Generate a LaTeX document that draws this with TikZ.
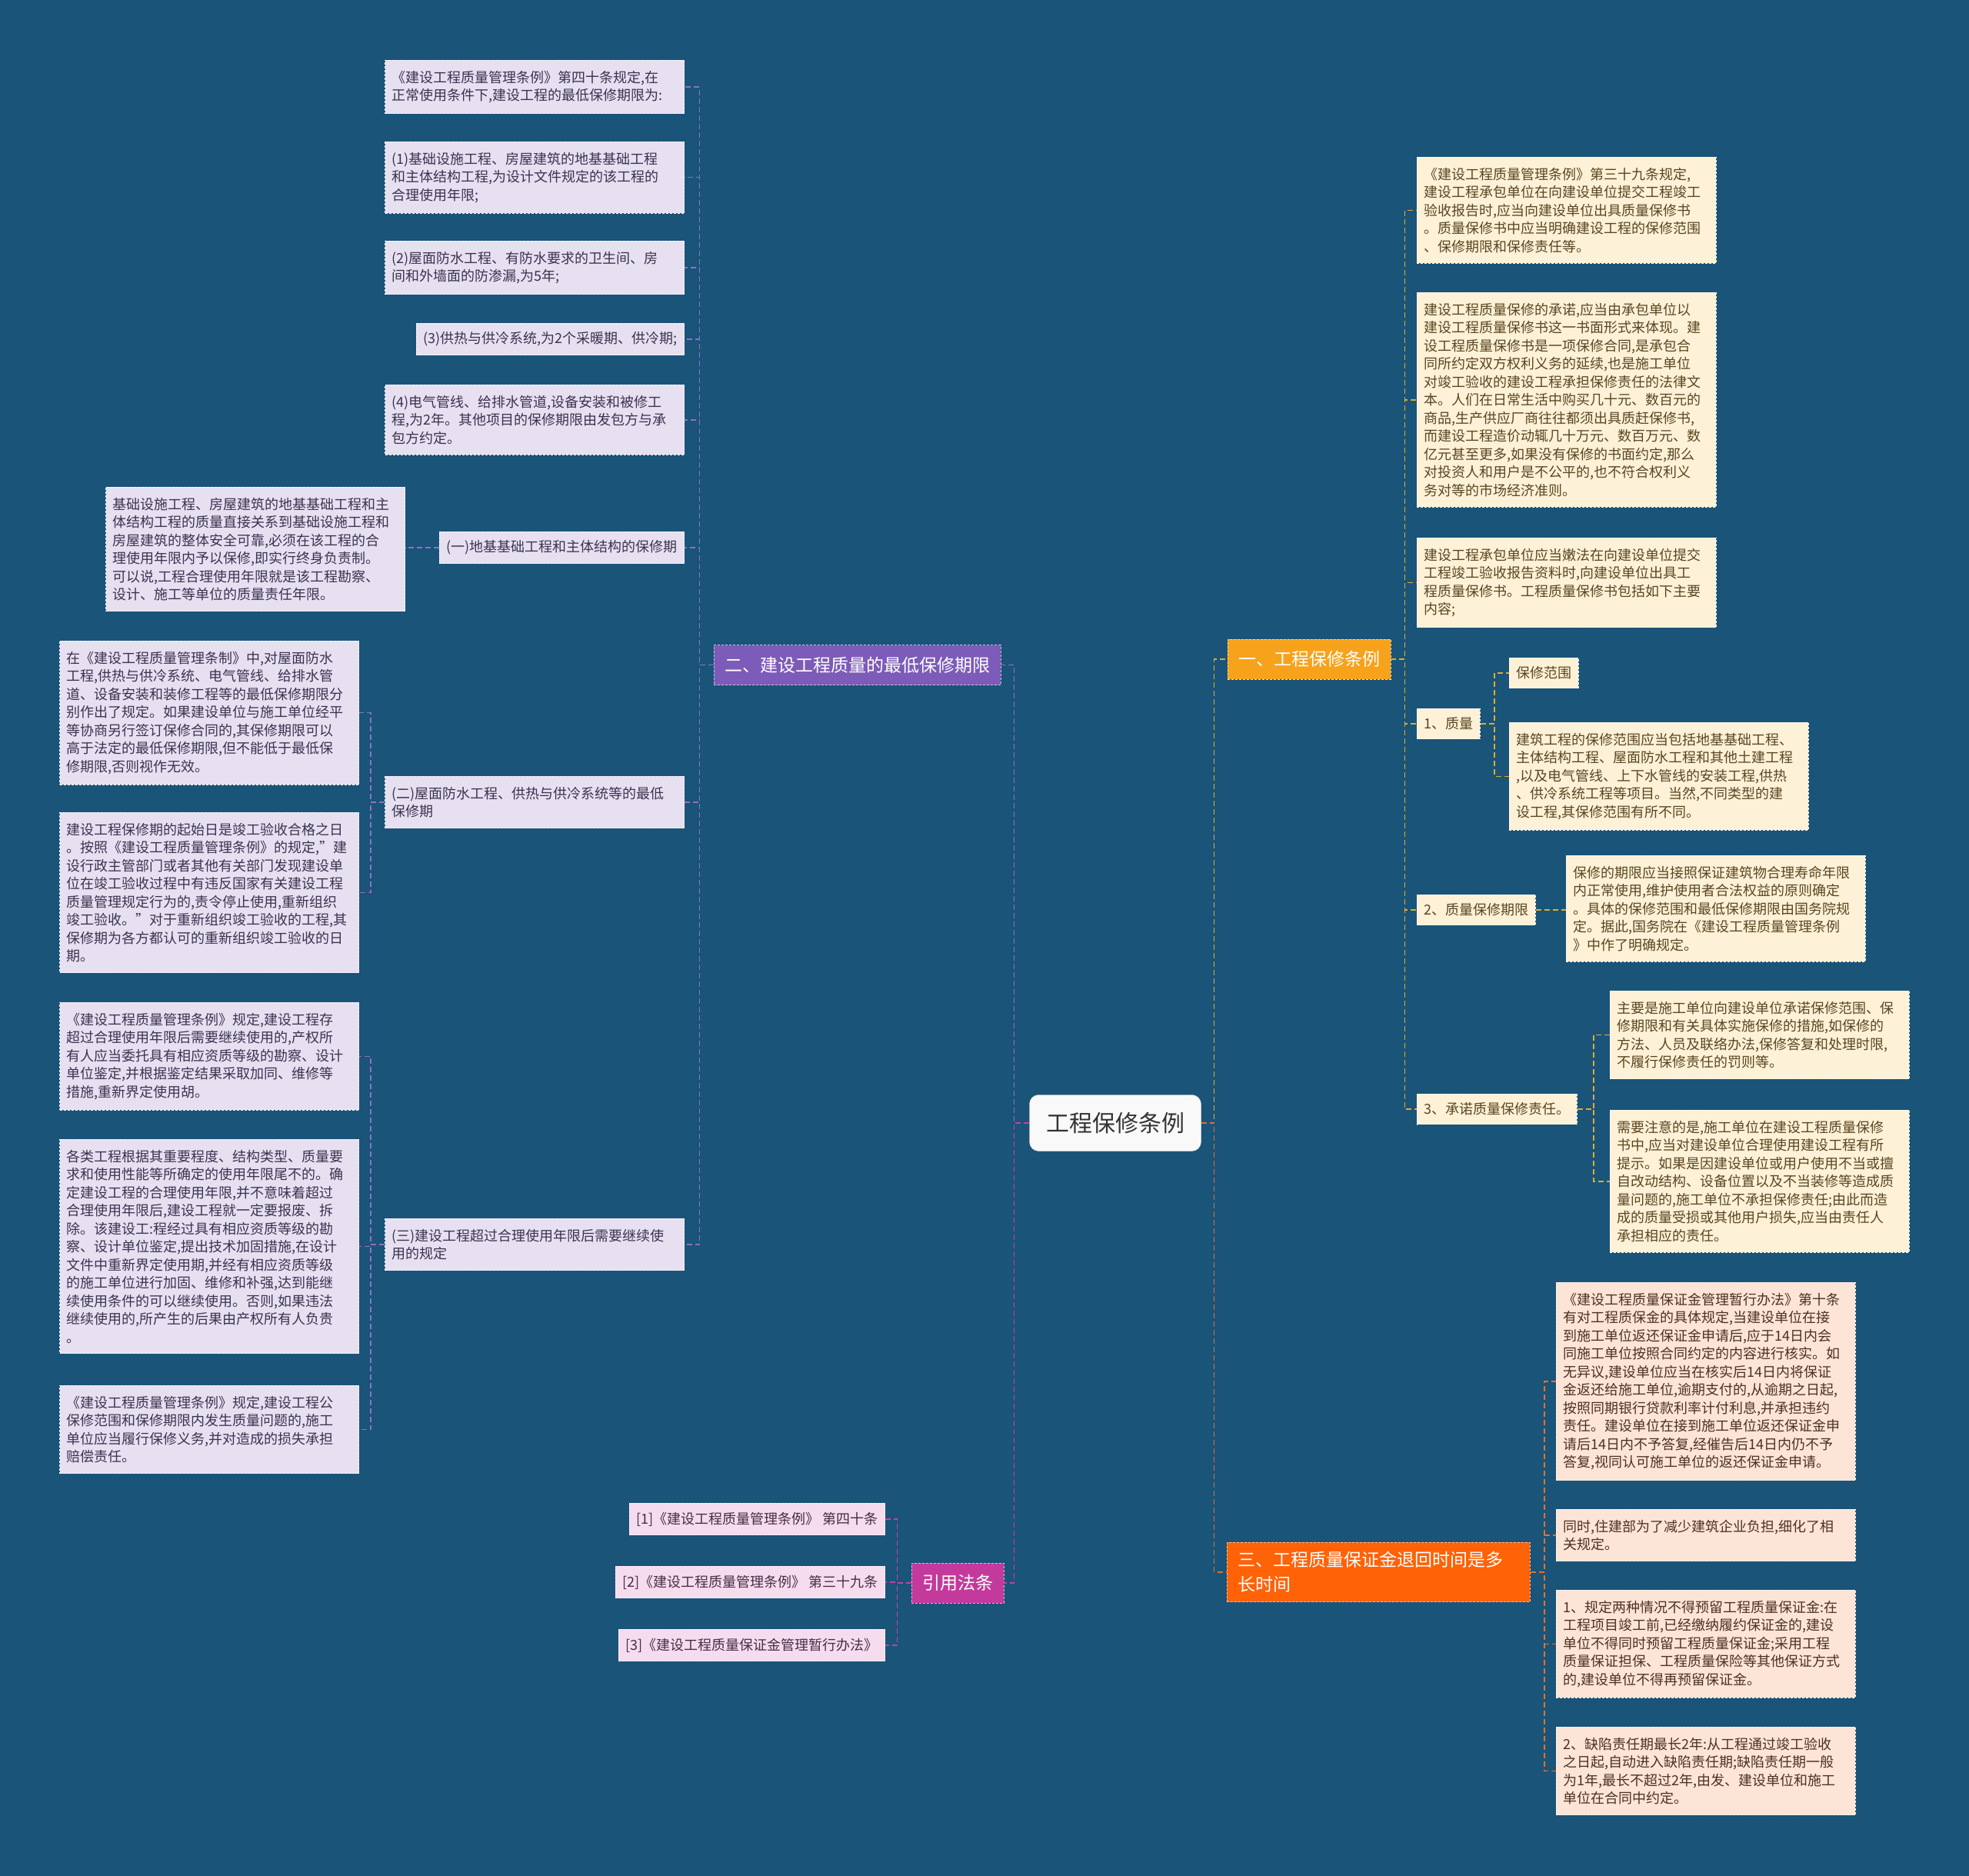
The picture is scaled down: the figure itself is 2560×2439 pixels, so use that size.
\documentclass[tikz,border=0pt]{standalone}
\usepackage{fontspec}
\setmainfont{Noto Sans CJK SC}
\definecolor{bg}{HTML}{1A5478}
\definecolor{pfill}{HTML}{7D5BB8}
\definecolor{pchild}{HTML}{E7E0F1}
\definecolor{ptext}{HTML}{3A3350}
\definecolor{pline}{HTML}{8E70C8}
\definecolor{mfill}{HTML}{C43A9C}
\definecolor{mchild}{HTML}{F6DCEF}
\definecolor{mtext}{HTML}{4A2C45}
\definecolor{mline}{HTML}{C8409E}
\definecolor{yfill}{HTML}{F7A21B}
\definecolor{ychild}{HTML}{FDF1D7}
\definecolor{ytext}{HTML}{5A4520}
\definecolor{yline}{HTML}{E3AA30}
\definecolor{ofill}{HTML}{FF6207}
\definecolor{ochild}{HTML}{FCE4D6}
\definecolor{otext}{HTML}{4D3020}
\definecolor{oline}{HTML}{E2712C}
\tikzset{
  conn/.style={line width=1.5pt, dash pattern=on 7pt off 4pt},
  lnP/.style={conn, draw=pline},
  lnM/.style={conn, draw=mline},
  lnY/.style={conn, draw=yline},
  lnO/.style={conn, draw=oline},
  txt/.style={font=\fontsize{18}{23.5}\selectfont, align=left, inner xsep=9pt, inner ysep=13.5pt,
     dash pattern=on 3pt off 2pt, line width=0.8pt},
  one/.style={font=\fontsize{18}{23.5}\selectfont, inner xsep=9pt, inner ysep=11.5pt,
     dash pattern=on 3pt off 2pt, line width=0.8pt},
  pbox/.style={fill=pchild, draw=white!70!pchild, text=ptext},
  mbox/.style={fill=mchild, draw=white!70!mchild, text=mtext},
  ybox/.style={fill=ychild, draw=white!70!ychild, text=ytext},
  obox/.style={fill=ochild, draw=white!70!ochild, text=otext},
  wide/.style={text width=371pt},
  branch/.style={font=\fontsize{23}{32}\selectfont, text=white, inner xsep=14pt, minimum height=52pt,
     dash pattern=on 3pt off 2pt, line width=0.8pt},
}
\begin{document}
\begin{tikzpicture}[x=1pt,y=-1pt]
\fill[bg] (0,0) rectangle (2560,2439);
\useasboundingbox (0,0) rectangle (2560,2439);

% center
\node[fill=white!95!gray, draw=white!80!gray, rounded corners=12pt, minimum width=223pt, minimum height=73pt,
  font=\fontsize{30}{36}\selectfont, text=black!80] (c) at (1450,1460) {工程保修条例};

% branches
\node[branch, fill=pfill, draw=white!60!pfill] (b2) at (1114.5,864.5) {二、建设工程质量的最低保修期限};
\node[branch, fill=mfill, draw=white!60!mfill] (b4) at (1245,2058) {引用法条};
\node[branch, fill=yfill, draw=white!60!yfill] (b1) at (1702,857) {一、工程保修条例};
\node[branch, fill=ofill, draw=white!60!ofill, anchor=north west, text width=366pt, align=left, inner ysep=12pt] (b3) at (1595,2005) {三、工程质量保证金退回时间是多\\长时间};

% left branch children
\node[txt,pbox,wide,anchor=north east] (p1) at (890,78) {《建设工程质量管理条例》第四十条规定,在\\正常使用条件下,建设工程的最低保修期限为:};
\node[txt,pbox,wide,anchor=north east] (p2) at (890,184) {(1)基础设施工程、房屋建筑的地基基础工程\\和主体结构工程,为设计文件规定的该工程的\\合理使用年限;};
\node[txt,pbox,wide,anchor=north east] (p3) at (890,313) {(2)屋面防水工程、有防水要求的卫生间、房\\间和外墙面的防渗漏,为5年;};
\node[one,pbox,anchor=east] (p4) at (890,441) {(3)供热与供冷系统,为2个采暖期、供冷期;};
\node[txt,pbox,wide,anchor=north east] (p5) at (890,500) {(4)电气管线、给排水管道,设备安装和被修工\\程,为2年。其他项目的保修期限由发包方与承\\包方约定。};
\node[one,pbox,anchor=east] (p6) at (890,712) {(一)地基基础工程和主体结构的保修期};
\node[txt,pbox,wide,anchor=north east] (p6c) at (527,633) {基础设施工程、房屋建筑的地基基础工程和主\\体结构工程的质量直接关系到基础设施工程和\\房屋建筑的整体安全可靠,必须在该工程的合\\理使用年限内予以保修,即实行终身负责制。\\可以说,工程合理使用年限就是该工程勘察、\\设计、施工等单位的质量责任年限。};
\node[txt,pbox,wide,anchor=north east] (p7) at (890,1009) {(二)屋面防水工程、供热与供冷系统等的最低\\保修期};
\node[txt,pbox,wide,anchor=north east] (p7a) at (467,833) {在《建设工程质量管理条制》中,对屋面防水\\工程,供热与供冷系统、电气管线、给排水管\\道、设备安装和装修工程等的最低保修期限分\\别作出了规定。如果建设单位与施工单位经平\\等协商另行签订保修合同的,其保修期限可以\\高于法定的最低保修期限,但不能低于最低保\\修期限,否则视作无效。};
\node[txt,pbox,wide,anchor=north east] (p7b) at (467,1056) {建设工程保修期的起始日是竣工验收合格之日\\。按照《建设工程质量管理条例》的规定,"建\\设行政主管部门或者其他有关部门发现建设单\\位在竣工验收过程中有违反国家有关建设工程\\质量管理规定行为的,责令停止使用,重新组织\\竣工验收。"对于重新组织竣工验收的工程,其\\保修期为各方都认可的重新组织竣工验收的日\\期。};
\node[txt,pbox,wide,anchor=north east] (p8) at (890,1584) {(三)建设工程超过合理使用年限后需要继续使\\用的规定};
\node[txt,pbox,wide,anchor=north east] (p8a) at (467,1303) {《建设工程质量管理条例》规定,建设工程存\\超过合理使用年限后需要继续使用的,产权所\\有人应当委托具有相应资质等级的勘察、设计\\单位鉴定,并根据鉴定结果采取加同、维修等\\措施,重新界定使用胡。};
\node[txt,pbox,wide,anchor=north east] (p8b) at (467,1481) {各类工程根据其重要程度、结构类型、质量要\\求和使用性能等所确定的使用年限尾不的。确\\定建设工程的合理使用年限,并不意味着超过\\合理使用年限后,建设工程就一定要报废、拆\\除。该建设工:程经过具有相应资质等级的勘\\察、设计单位鉴定,提出技术加固措施,在设计\\文件中重新界定使用期,并经有相应资质等级\\的施工单位进行加固、维修和补强,达到能继\\续使用条件的可以继续使用。否则,如果违法\\继续使用的,所产生的后果由产权所有人负贵\\。};
\node[txt,pbox,wide,anchor=north east] (p8c) at (467,1801) {《建设工程质量管理条例》规定,建设工程公\\保修范围和保修期限内发生质量问题的,施工\\单位应当履行保修义务,并对造成的损失承担\\赔偿责任。};

% references
\node[one,mbox,anchor=east] (q1) at (1151,1975) {[1]《建设工程质量管理条例》 第四十条};
\node[one,mbox,anchor=east] (q2) at (1151,2057) {[2]《建设工程质量管理条例》 第三十九条};
\node[one,mbox,anchor=east] (q3) at (1151,2139) {[3]《建设工程质量保证金管理暂行办法》};

% right branch 1 children
\node[txt,ybox,wide,anchor=north west] (r1) at (1842,204) {《建设工程质量管理条例》第三十九条规定,\\建设工程承包单位在向建设单位提交工程竣工\\验收报告时,应当向建设单位出具质量保修书\\。质量保修书中应当明确建设工程的保修范围\\、保修期限和保修责任等。};
\node[txt,ybox,wide,anchor=north west] (r2) at (1842,380) {建设工程质量保修的承诺,应当由承包单位以\\建设工程质量保修书这一书面形式来体现。建\\设工程质量保修书是一项保修合同,是承包合\\同所约定双方权利义务的延续,也是施工单位\\对竣工验收的建设工程承担保修责任的法律文\\本。人们在日常生活中购买几十元、数百元的\\商品,生产供应厂商往往都须出具质赶保修书,\\而建设工程造价动辄几十万元、数百万元、数\\亿元甚至更多,如果没有保修的书面约定,那么\\对投资人和用户是不公平的,也不符合权利义\\务对等的市场经济准则。};
\node[txt,ybox,wide,anchor=north west] (r3) at (1842,699) {建设工程承包单位应当嫩法在向建设单位提交\\工程竣工验收报告资料时,向建设单位出具工\\程质量保修书。工程质量保修书包括如下主要\\内容;};
\node[one,ybox,anchor=west] (r4) at (1842,941) {1、质量};
\node[one,ybox,anchor=west] (r4a) at (1962,875) {保修范围};
\node[txt,ybox,wide,anchor=north west] (r4b) at (1962,939) {建筑工程的保修范围应当包括地基基础工程、\\主体结构工程、屋面防水工程和其他土建工程\\,以及电气管线、上下水管线的安装工程,供热\\、供冷系统工程等项目。当然,不同类型的建\\设工程,其保修范围有所不同。};
\node[one,ybox,anchor=west] (r5) at (1842,1183) {2、质量保修期限};
\node[txt,ybox,wide,anchor=north west] (r5a) at (2036,1112) {保修的期限应当接照保证建筑物合理寿命年限\\内正常使用,维护使用者合法权益的原则确定\\。具体的保修范围和最低保修期限由国务院规\\定。据此,国务院在《建设工程质量管理条例\\》中作了明确规定。};
\node[one,ybox,anchor=west] (r6) at (1842,1442) {3、承诺质量保修责任。};
\node[txt,ybox,wide,anchor=north west] (r6a) at (2093,1288) {主要是施工单位向建设单位承诺保修范围、保\\修期限和有关具体实施保修的措施,如保修的\\方法、人员及联络办法,保修答复和处理时限,\\不履行保修责任的罚则等。};
\node[txt,ybox,wide,anchor=north west] (r6b) at (2093,1443) {需要注意的是,施工单位在建设工程质量保修\\书中,应当对建设单位合理使用建设工程有所\\提示。如果是因建设单位或用户使用不当或擅\\自改动结构、设备位置以及不当装修等造成质\\量问题的,施工单位不承担保修责任;由此而造\\成的质量受损或其他用户损失,应当由责任人\\承担相应的责任。};

% right branch 3 children
\node[txt,obox,wide,anchor=north west] (t1) at (2023,1667) {《建设工程质量保证金管理暂行办法》第十条\\有对工程质保金的具体规定,当建设单位在接\\到施工单位返还保证金申请后,应于14日内会\\同施工单位按照合同约定的内容进行核实。如\\无异议,建设单位应当在核实后14日内将保证\\金返还给施工单位,逾期支付的,从逾期之日起,\\按照同期银行贷款利率计付利息,并承担违约\\责任。建设单位在接到施工单位返还保证金申\\请后14日内不予答复,经催告后14日内仍不予\\答复,视同认可施工单位的返还保证金申请。};
\node[txt,obox,wide,anchor=north west] (t2) at (2023,1962) {同时,住建部为了减少建筑企业负担,细化了相\\关规定。};
\node[txt,obox,wide,anchor=north west] (t3) at (2023,2067) {1、规定两种情况不得预留工程质量保证金:在\\工程项目竣工前,已经缴纳履约保证金的,建设\\单位不得同时预留工程质量保证金;采用工程\\质量保证担保、工程质量保险等其他保证方式\\的,建设单位不得再预留保证金。};
\node[txt,obox,wide,anchor=north west] (t4) at (2023,2245) {2、缺陷责任期最长2年:从工程通过竣工验收\\之日起,自动进入缺陷责任期;缺陷责任期一般\\为1年,最长不超过2年,由发、建设单位和施工\\单位在合同中约定。};

% connectors
\draw[lnP] (c.west) -- ++(-20,0) |- (b2.east);
\draw[lnM] (c.west) -- ++(-20,0) |- (b4.east);
\draw[lnY] (c.east) -- ++(17,0) |- (b1.west);
\draw[lnO] (c.east) -- ++(17,0) |- (b3.west);
\foreach \n in {p1,p2,p3,p4,p5,p6,p7,p8} \draw[lnP] (b2.west) -- ++(-18,0) |- (\n.east);
\draw[lnP] (p6.west) -- (p6.west -| p6c.east);
\foreach \n in {p7a,p7b} \draw[lnP] (p7.west) -- ++(-18,0) |- (\n.east);
\foreach \n in {p8a,p8b,p8c} \draw[lnP] (p8.west) -- ++(-18,0) |- (\n.east);
\foreach \n in {q1,q2,q3} \draw[lnM] (b4.west) -- ++(-18,0) |- (\n.east);
\foreach \n in {r1,r2,r3,r4,r5,r6} \draw[lnY] (b1.east) -- ++(18,0) |- (\n.west);
\foreach \n in {r4a,r4b} \draw[lnY] (r4.east) -- ++(18,0) |- (\n.west);
\draw[lnY] (r5.east) -- (r5.east -| r5a.west);
\foreach \n in {r6a,r6b} \draw[lnY] (r6.east) -- ++(21,0) |- (\n.west);
\foreach \n in {t1,t2,t3,t4} \draw[lnO] (b3.east) -- ++(18,0) |- (\n.west);
\end{tikzpicture}
\end{document}
